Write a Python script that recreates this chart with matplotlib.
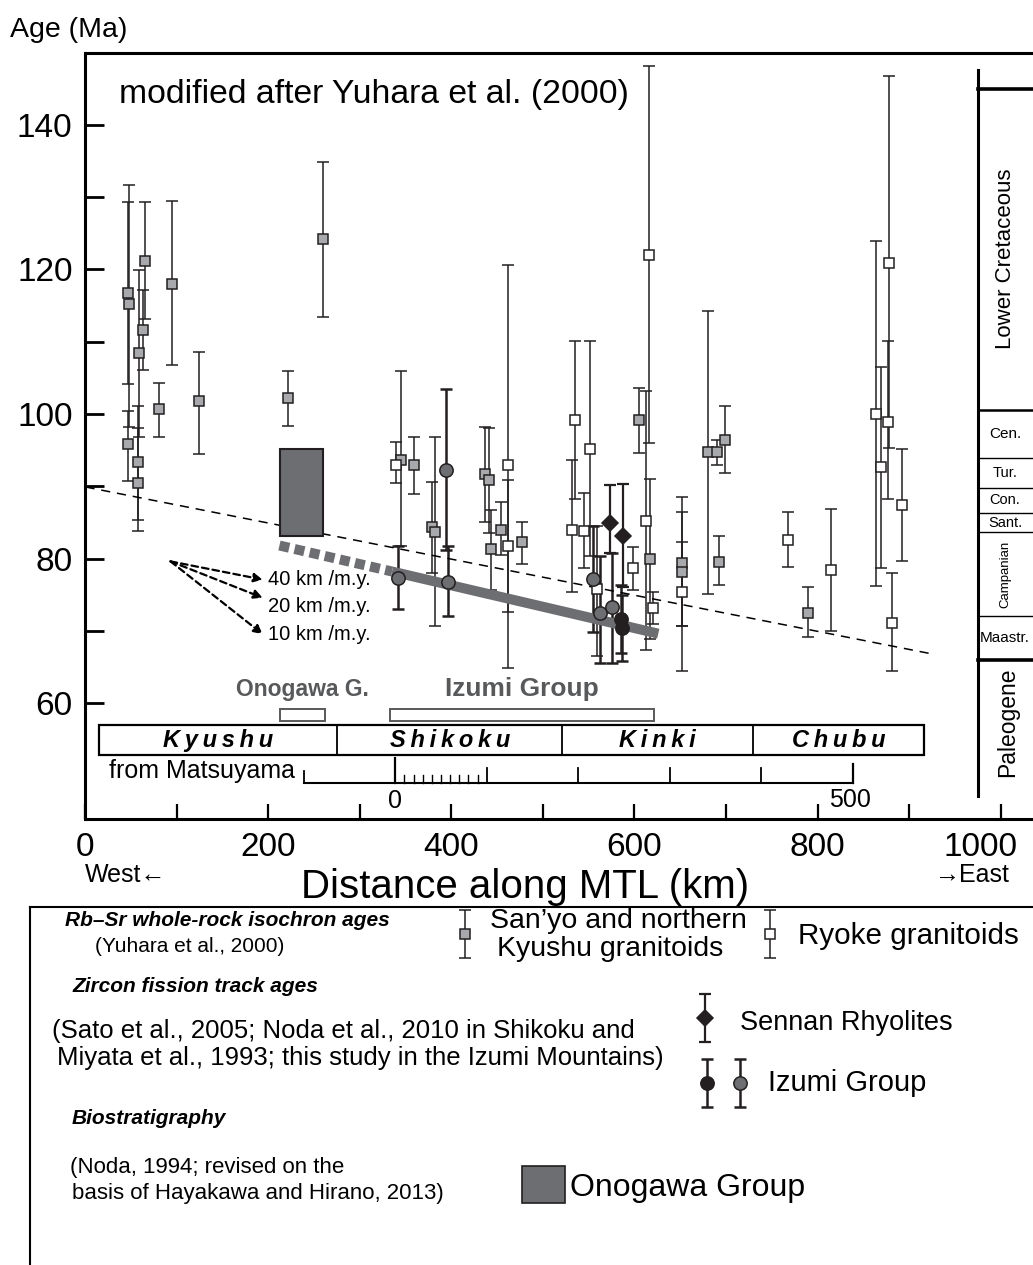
"""
Cooling / depositional ages along the Median Tectonic Line.
"""
import matplotlib
matplotlib.use('Agg')
import matplotlib.pyplot as plt
from matplotlib.patches import Rectangle
from matplotlib.transforms import offset_copy

plt.rcParams['font.family'] = ['Liberation Sans', 'DejaVu Sans']

# ###
# Data: distance along MTL (km), age (Ma), lower / upper limit of error bar
# ###
# San'yo and northern Kyushu granitoids (Rb-Sr)
SANYO_DIST = [46, 48, 46, 57.4, 57.4, 58.5, 63, 65, 95, 80.3, 123.7, 221, 260,
              344.8, 359.4, 379, 382, 437, 440.6, 443, 454.5, 477.4, 605, 617,
              652, 652, 680.7, 690.5, 699.3, 692.3, 789.6]
SANYO_AGE  = [116.8, 115.2, 95.9, 93.3, 90.4, 108.5, 111.6, 121.2, 118.0, 100.7, 101.8, 102.2, 124.2,
              93.6, 92.9, 84.3, 83.6, 91.7, 90.8, 81.3, 84.0, 82.3, 99.2, 80.0,
              79.4, 78.2, 94.7, 94.7, 96.4, 79.5, 72.4]
SANYO_LO   = [104.2, 98.2, 90.7, 85.3, 83.8, 96.8, 106.1, 113.1, 106.8, 96.8, 94.5, 98.4, 113.4,
              81.7, 88.9, 78.0, 70.7, 85.0, 83.5, 75.6, 80.5, 79.3, 94.6, 68.8,
              70.6, 70.6, 75.1, 93.0, 91.8, 76.3, 69.1]
SANYO_HI   = [129.4, 131.7, 100.4, 101.1, 98.0, 119.9, 117.1, 129.3, 129.5, 104.3, 108.6, 106.0, 134.9,
              106.0, 96.8, 90.6, 96.8, 98.2, 98.0, 86.7, 87.8, 85.0, 103.6, 91.0,
              88.5, 86.4, 114.3, 96.4, 101.1, 83.1, 76.1]

# Ryoke granitoids (Rb-Sr)
RYOKE_DIST = [339, 461.6, 462, 535.3, 531.7, 551.4, 544.8, 558.7, 598, 616, 612.6, 620.6,
              652, 767.4, 814.8, 864, 877.4, 878.5, 869.7, 892, 881.7]
RYOKE_AGE  = [93.0, 92.9, 81.7, 99.1, 84.0, 95.2, 83.8, 75.8, 78.7, 122.0, 85.2, 73.2,
              75.4, 82.6, 78.4, 100.0, 98.9, 120.9, 92.6, 87.4, 71.1]
RYOKE_LO   = [90.4, 64.9, 72.6, 88.3, 75.3, 80.3, 78.7, 66.5, 75.6, 96.0, 67.4, 70.9,
              64.5, 78.8, 69.9, 76.2, 88.3, 95.3, 78.7, 79.6, 64.5]
RYOKE_HI   = [96.1, 120.6, 90.8, 110.1, 93.6, 110.1, 89.0, 84.5, 81.6, 148.1, 103.2, 75.4,
              82.3, 86.4, 86.9, 124.0, 110.1, 146.8, 106.5, 95.2, 78.0]

# Sennan Rhyolites (zircon FT)
SENNAN_DIST = [573, 587]
SENNAN_AGE  = [84.9, 83.1]
SENNAN_LO   = [80.8, 76.0]
SENNAN_HI   = [90.2, 90.3]

# Izumi Group, Shikoku and Izumi Mountains (zircon FT)
IZUMI_DIST = [342, 394, 396.5, 555, 562, 575]
IZUMI_AGE  = [77.3, 92.3, 76.8, 77.1, 72.4, 73.3]
IZUMI_LO   = [73.0, 81.2, 72.0, 69.8, 65.5, 65.5]
IZUMI_HI   = [81.7, 103.4, 81.7, 84.5, 80.3, 80.8]

# Izumi Group, this study (zircon FT)
THIS_DIST = [585, 586]
THIS_AGE  = [71.6, 70.4]
THIS_LO   = [66.9, 65.8]
THIS_HI   = [76.3, 75.0]

# Onogawa Group (biostratigraphy): distance range, age range
ONOGAWA_DIST = [213, 260]
ONOGAWA_AGE  = [83.1, 95.2]

# Migration trends
TREND40_DIST = [0, 925]
TREND40_AGE  = [89.9, 66.8]
TREND_DIST   = [212, 335, 626]
TREND_AGE    = [81.8, 78.2, 69.6]
RATE_ORIGIN  = [93, 79.6]
RATES        = [40, 20, 10]
RATE_LABEL_Y = [77.1, 73.4, 69.55]

# Regions along the MTL
REGION_NAMES  = ['Kyushu', 'Shikoku', 'Kinki', 'Chubu']
REGION_BOUNDS = [15, 275, 521, 729.5, 916]
GROUP_SPANS   = {'Onogawa G.': (213, 262), 'Izumi Group': (332.5, 621)}

# Geologic time scale (Ma)
STAGE_BOUNDS = [145.0, 100.5, 93.9, 89.8, 86.3, 83.6, 72.1, 66.0]
STAGE_NAMES  = ['Lower Cretaceous', 'Cen.', 'Tur.', 'Con.', 'Sant.', 'Campanian', 'Maastr.']

# Colors
C_GRAY   = '#a7a9ac'
C_DARK   = '#6d6e71'
C_BLACK  = '#231f20'
C_LABEL  = '#58595b'

# Figure geometry (pixels)
W, H = 1033, 1265
AX_L, AX_R, AX_T, AX_B = 85, 1033, 52.7, 819


def draw_points(ax, dist, age, lo, hi, marker, face, ms, elw, cap):
    yerr = [[a - l for a, l in zip(age, lo)], [h - a for a, h in zip(age, hi)]]
    ax.errorbar(dist, age, yerr=yerr, fmt='none', ecolor=C_BLACK, elinewidth=elw,
                capsize=cap, capthick=elw, zorder=2)
    ax.plot(dist, age, ls='none', marker=marker, ms=ms, mfc=face, mec=C_BLACK, mew=1.1, zorder=6)


fig = plt.figure(figsize=(W / 100, H / 100), dpi=100)
ax = fig.add_axes([AX_L / W, 1 - AX_B / H, (AX_R - AX_L) / W, (AX_B - AX_T) / H])
ax.set_xlim(-0.5, 1035.5)
ax.set_ylim(43.95, 150.0)

for s in ['left', 'top', 'bottom']:
    ax.spines[s].set_linewidth(2.2)
ax.spines['right'].set_visible(False)

XTICKS = list(range(0, 1001, 100))
ax.set_xticks(XTICKS)
ax.set_xticklabels([str(v) if v % 200 == 0 and v < 1000 else '' for v in XTICKS])
ax.set_yticks(range(60, 141, 10))
ax.set_yticklabels([str(v) if v % 20 == 0 else '' for v in range(60, 141, 10)])
ax.tick_params(axis='x', direction='in', length=11, width=1.6, labelsize=24, pad=9)
ax.tick_params(axis='y', direction='in', length=14, width=2, labelsize=24, pad=9)
# last label is pulled inside the figure edge
ax.text(978.5, 0, '1000', fontsize=24, ha='center', va='top',
        transform=offset_copy(ax.get_xaxis_transform(), fig=fig, y=-9, units='points'))

# Data points
draw_points(ax, SANYO_DIST, SANYO_AGE, SANYO_LO, SANYO_HI, 's', C_GRAY, 7.2, 1.1, 4.5)
draw_points(ax, RYOKE_DIST, RYOKE_AGE, RYOKE_LO, RYOKE_HI, 's', 'white', 7.2, 1.1, 4.5)
draw_points(ax, SENNAN_DIST, SENNAN_AGE, SENNAN_LO, SENNAN_HI, 'D', C_BLACK, 8.0, 1.6, 4.5)
draw_points(ax, IZUMI_DIST, IZUMI_AGE, IZUMI_LO, IZUMI_HI, 'o', C_DARK, 9.6, 1.8, 4.5)
draw_points(ax, THIS_DIST, THIS_AGE, THIS_LO, THIS_HI, 'o', C_BLACK, 9.6, 1.8, 4.5)

# Onogawa Group
ax.add_patch(Rectangle((ONOGAWA_DIST[0], ONOGAWA_AGE[0]), ONOGAWA_DIST[1] - ONOGAWA_DIST[0],
                       ONOGAWA_AGE[1] - ONOGAWA_AGE[0], fc=C_DARK, ec=C_BLACK, lw=1.5, zorder=4))

# Trend lines
ax.plot(TREND40_DIST, TREND40_AGE, color='k', lw=1.1, dashes=(6, 4.5), zorder=3)
ax.plot(TREND_DIST[1:], TREND_AGE[1:], color=C_DARK, lw=7.2, solid_capstyle='butt', zorder=3)
ax.plot(TREND_DIST[:2], TREND_AGE[:2], color=C_DARK, lw=7.2, dashes=(1.0, 0.55), zorder=3)

# Migration-rate arrows
for r, ly in zip(RATES, RATE_LABEL_Y):
    x1 = RATE_ORIGIN[0] + 100.7
    y1 = RATE_ORIGIN[1] - 100.7 / r
    ax.annotate('', xy=(x1, y1), xytext=(RATE_ORIGIN[0], RATE_ORIGIN[1]),
                arrowprops=dict(arrowstyle='-|>', color='k', lw=1.6, ls=(0, (3, 1.8)),
                                mutation_scale=13, shrinkA=0, shrinkB=0))
    ax.text(199.8, ly, '%d km /m.y.' % r, fontsize=14.5, va='center', ha='left')

# Group extents
for name, (x0, x1) in GROUP_SPANS.items():
    ax.add_patch(Rectangle((x0, 57.5), x1 - x0, 1.7, fc='white', ec=C_LABEL, lw=1.4, zorder=3))
    fs = 16.5 if name.startswith('Onogawa') else 19
    ax.text((x0 + x1) / 2, 61.9, name, fontsize=fs, fontweight='bold', color=C_LABEL,
            ha='center', va='center')

# Regions
ax.add_patch(Rectangle((REGION_BOUNDS[0], 52.84), REGION_BOUNDS[-1] - REGION_BOUNDS[0], 4.16,
                       fc='white', ec='k', lw=1.6, zorder=3))
for i, name in enumerate(REGION_NAMES):
    if 0 < i:
        ax.plot([REGION_BOUNDS[i]] * 2, [52.84, 57.0], color='k', lw=1.3, zorder=4)
    xc = (REGION_BOUNDS[i] + REGION_BOUNDS[i + 1]) / 2
    ax.text(xc, 54.8, '\u2009'.join(name), fontsize=17, fontweight='bold', style='italic',
            ha='center', va='center', zorder=5)

# Distance scale from Matsuyama
ax.plot([239, 838.5], [49.0, 49.0], color='k', lw=1.5)
ax.plot([239, 239], [49.0, 50.6], color='k', lw=1.3)
ax.plot([338.5, 338.5], [49.0, 52.4], color='k', lw=1.6)
for k in range(1, 10):
    ax.plot([338.5 + 10 * k] * 2, [49.0, 50.1], color='k', lw=1.0)
for k in range(1, 5):
    ax.plot([338.5 + 100 * k] * 2, [49.0, 50.95], color='k', lw=1.3)
ax.plot([838.5, 838.5], [49.0, 51.5], color='k', lw=1.6)
ax.text(229, 49.0, 'from Matsuyama', fontsize=18, ha='right', va='bottom')
ax.text(338.5, 46.5, '0', fontsize=18, ha='center', va='center')
ax.text(835.5, 46.6, '500', fontsize=18, ha='center', va='center')

# Geologic time column
XC = 975.7
ax.plot([XC, XC], [47.1, 147.6], color='k', lw=2.2, clip_on=False)
for b in STAGE_BOUNDS:
    lw = 2.6 if b in (145.0, 66.0) else (1.8 if b == 100.5 else 1.0)
    ax.plot([XC, 1035.5], [b, b], color='k', lw=lw, clip_on=False)
XT = 1005
stage_fs = [16, 11, 10.5, 10.5, 10.5, 9.5, 11]
for i, name in enumerate(STAGE_NAMES):
    yc = (STAGE_BOUNDS[i] + STAGE_BOUNDS[i + 1]) / 2
    if i == 0:
        yc = 121.5
    rot = 90 if name in ('Lower Cretaceous', 'Campanian') else 0
    ax.text(XT, yc, name, fontsize=stage_fs[i], rotation=rot, ha='center', va='center')
ax.text(1008, 57.3, 'Paleogene', fontsize=16.5, rotation=90, ha='center', va='center')

ax.text(36.7, 144.2, 'modified after Yuhara et al. (2000)', fontsize=24.3, ha='left', va='center')

# Axis titles
fig.text(10 / W, 1 - 30 / H, 'Age (Ma)', fontsize=20.5, ha='left', va='center')
fig.text(525 / W, 1 - 887 / H, 'Distance along MTL (km)', fontsize=29, ha='center', va='center')
fig.text(85 / W, 1 - 875 / H, 'West\u2190', fontsize=18, ha='left', va='center')
fig.text(1010 / W, 1 - 875 / H, '\u2192East', fontsize=18, ha='right', va='center')

# ###
# Legend panel (pixel coordinates)
# ###
lg = fig.add_axes([0, 0, 1, 1])
lg.set_xlim(0, W)
lg.set_ylim(H, 0)
lg.axis('off')
lg.plot([30, W], [907, 907], color='k', lw=1.5)
lg.plot([30, 30], [907, H], color='k', lw=1.5)


def legend_icon(x, y, marker, face, ms, elw):
    lg.errorbar([x], [y], yerr=[[24], [24]], fmt='none', ecolor=C_BLACK, elinewidth=elw,
                capsize=4.5, capthick=elw)
    lg.plot([x], [y], ls='none', marker=marker, ms=ms, mfc=face, mec=C_BLACK, mew=1.1, zorder=5)


legend_icon(465, 934, 's', C_GRAY, 7.2, 1.1)
legend_icon(770, 934, 's', 'white', 7.2, 1.1)
legend_icon(705, 1018, 'D', C_BLACK, 8.0, 1.6)
legend_icon(707, 1083, 'o', C_BLACK, 9.6, 1.8)
legend_icon(740, 1083, 'o', C_DARK, 9.6, 1.8)
lg.add_patch(Rectangle((522, 1166), 43, 37, fc=C_DARK, ec=C_BLACK, lw=1.2))

lg.text(65, 921, 'Rb\u2013Sr whole-rock isochron ages', fontsize=15, fontweight='bold', style='italic', va='center')
lg.text(95, 946, '(Yuhara et al., 2000)', fontsize=15, va='center')
lg.text(490, 921, 'San\u2019yo and northern', fontsize=20.5, va='center')
lg.text(497, 949, 'Kyushu granitoids', fontsize=20.5, va='center')
lg.text(798, 936, 'Ryoke granitoids', fontsize=21.3, va='center')
lg.text(72, 987, 'Zircon fission track ages', fontsize=15, fontweight='bold', style='italic', va='center')
lg.text(52, 1031, '(Sato et al., 2005; Noda et al., 2010 in Shikoku and', fontsize=18.5, va='center')
lg.text(57, 1058, 'Miyata et al., 1993; this study in the Izumi Mountains)', fontsize=18.5, va='center')
lg.text(740, 1023, 'Sennan Rhyolites', fontsize=19.5, va='center')
lg.text(768, 1083, 'Izumi Group', fontsize=21, va='center')
lg.text(72, 1118, 'Biostratigraphy', fontsize=15, fontweight='bold', style='italic', va='center')
lg.text(70, 1168, '(Noda, 1994; revised on the', fontsize=16, va='center')
lg.text(72, 1193, 'basis of Hayakawa and Hirano, 2013)', fontsize=16, va='center')
lg.text(570, 1188, 'Onogawa Group', fontsize=23, va='center')

fig.savefig('out.png', dpi=100)
